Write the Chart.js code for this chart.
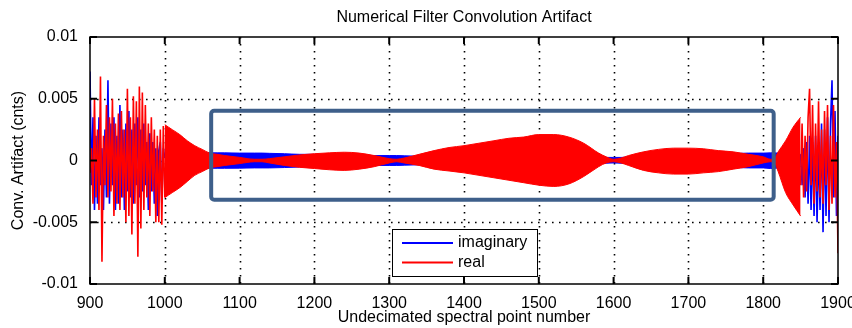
<!DOCTYPE html>
<html>
<head>
<meta charset="utf-8">
<script src="https://cdn.jsdelivr.net/npm/chart.js@4.4.1/dist/chart.umd.min.js"></script>
<style>
  html, body { margin: 0; padding: 0; background: #fff; }
  #wrap { width: 852px; height: 328px; }
</style>
</head>
<body>
<div id="wrap"><canvas id="myChart" width="852" height="328"></canvas></div>
<script>
// axis ticks
const xTicks = [900, 1000, 1100, 1200, 1300, 1400, 1500, 1600, 1700, 1800, 1900];
const yTicks = [-0.01, -0.005, 0, 0.005, 0.01];
const yTickLabels = ['-0.01', '-0.005', '0', '0.005', '0.01'];

// noisy part, left (900..1000, step 2)
const xNoiseLeft = [900, 902, 904, 906, 908, 910, 912, 914, 916, 918, 920, 922, 924, 926, 928, 930, 932, 934, 936, 938,
    940, 942, 944, 946, 948, 950, 952, 954, 956, 958, 960, 962, 964, 966, 968, 970, 972, 974, 976, 978,
    980, 982, 984, 986, 988, 990, 992, 994, 996, 998, 1000];
const realNoiseLeft = [-0.001, 0.001, -0.0035, 0.005, -0.003, 0.0025, -0.004, 0.0068, -0.0082, 0.002,
    -0.002, 0.0045, -0.003, 0.0035, -0.0025, 0.005, -0.0045, 0.003, -0.0035, 0.0038,
    -0.004, 0.004, -0.003, 0.0025, -0.005, 0.0058, -0.0045, 0.0035, -0.006, 0.0052,
    -0.0035, 0.0048, -0.0078, 0.006, -0.0055, 0.0055, -0.004, 0.0045, -0.003, 0.003,
    -0.0045, 0.0035, -0.0025, 0.0025, -0.005, 0.002, -0.005, 0.0025, -0.0052, 0.0028, -0.003];
const imagNoiseLeft = [0.0072, -0.002, 0.0035, -0.004, 0.002, -0.0035, 0.0035, -0.002, 0.001, -0.004,
    0.0025, -0.003, 0.0065, -0.0035, 0.003, -0.002, 0.0035, -0.004, 0.002, -0.0035,
    0.0045, -0.003, 0.0025, -0.004, 0.003, -0.0025, 0.004, -0.003, 0.0025, -0.0035,
    0.003, -0.002, 0.0035, -0.003, 0.0025, -0.0025, 0.003, -0.002, 0.0015, -0.004,
    0.0022, -0.0025, 0.0015, -0.0035, 0.001, -0.0045, 0.0008, 0.0015, -0.0035, 0.001, 0.0002];

// noisy part, right (1850..1900, step 2)
const xNoiseRight = [1850, 1852, 1854, 1856, 1858, 1860, 1862, 1864, 1866, 1868, 1870, 1872, 1874,
    1876, 1878, 1880, 1882, 1884, 1886, 1888, 1890, 1892, 1894, 1896, 1898, 1900];
const realNoiseRight = [-0.002, 0.003, -0.003, 0.002, -0.0025, 0.0035, 0.0058, -0.002, 0.0045, -0.0035,
    0.003, -0.0025, 0.0048, -0.003, 0.0025, -0.0035, 0.004, -0.002, 0.0045, -0.004,
    0.002, -0.0035, 0.0045, -0.003, 0.0015, -0.0075];
const imagNoiseRight = [0.0005, -0.002, 0.001, -0.003, 0.0015, -0.0035, 0.002, -0.004, 0.0015, -0.0045,
    0.002, -0.005, 0.001, -0.004, 0.003, -0.0058, 0.0025, -0.0045, 0.0035, -0.005,
    0.003, 0.0065, -0.003, 0.004, -0.0045, 0.002];

// envelope of the fast oscillation, 1000..1850
const xEnv = [1000, 1005, 1010, 1020, 1030, 1040, 1050, 1060, 1070, 1080, 1100, 1120, 1130, 1140, 1160, 1180,
    1200, 1220, 1240, 1260, 1280, 1300, 1310, 1320, 1340, 1360, 1380, 1400, 1420, 1440, 1460, 1480,
    1500, 1520, 1540, 1560, 1580, 1590, 1600, 1610, 1620, 1640, 1660, 1680, 1700, 1720, 1740, 1760,
    1780, 1800, 1810, 1814, 1820, 1830, 1840, 1850];
const realTop = [0.0029, 0.0027, 0.0025, 0.0021, 0.0016, 0.0012, 0.0009, 0.0006, 0.0005, 0.0004, 0.00025, 0.0001, 0.0001, 0.00015, 0.0003, 0.00045,
    0.00055, 0.00062, 0.00067, 0.0006, 0.0004, 0.00015, 0.0001, 0.0002, 0.0005, 0.0008, 0.00105, 0.0012, 0.0014, 0.0016, 0.0018, 0.0019,
    0.0021, 0.0021, 0.0019, 0.0014, 0.0006, 0.0003, 0.0001, 0.0002, 0.0004, 0.0007, 0.0009, 0.001, 0.001, 0.00095, 0.0008, 0.0007,
    0.0005, 0.0003, 0.0001, 0.0001, 0.0007, 0.0016, 0.0027, 0.0035];
const realBottom = [-0.003, -0.0028, -0.0026, -0.0022, -0.0017, -0.0012, -0.0009, -0.0006, -0.0005, -0.0004, -0.00025, -0.0001, -0.0001, -0.0002, -0.0004, -0.00055,
    -0.00065, -0.00075, -0.0008, -0.0007, -0.0005, -0.0002, -0.0001, -0.0002, -0.0004, -0.0007, -0.00085, -0.001, -0.0012, -0.0014, -0.0016, -0.0018,
    -0.002, -0.0021, -0.0019, -0.0013, -0.0005, -0.0002, -0.0001, -0.0002, -0.0004, -0.0008, -0.001, -0.0011, -0.0011, -0.001, -0.0009, -0.0007,
    -0.0005, -0.0002, -0.0001, -0.0001, -0.0009, -0.0026, -0.0036, -0.0045];
const imagTop = [0.0006, 0.0006, 0.0006, 0.0006, 0.0006, 0.0006, 0.0006, 0.00062, 0.00062, 0.00062, 0.0006, 0.0006, 0.0006, 0.00058, 0.00055, 0.0005,
    0.0005, 0.00048, 0.00045, 0.00043, 0.0004, 0.0004, 0.0004, 0.00038, 0.00035, 0.00033, 0.0003, 0.0003, 0.0003, 0.0003, 0.0003, 0.0003,
    0.0003, 0.0003, 0.0003, 0.00028, 0.00025, 0.00025, 0.00025, 0.00025, 0.00028, 0.0003, 0.00035, 0.00035, 0.0004, 0.00045, 0.0005, 0.00055,
    0.0006, 0.0006, 0.00062, 0.00062, 0.0006, 0.0006, 0.0006, 0.0005];
const imagBottom = [-0.0006, -0.0006, -0.0006, -0.0006, -0.0006, -0.0006, -0.0006, -0.00063, -0.00063, -0.00063, -0.00062, -0.0006, -0.0006, -0.0006, -0.00057, -0.00053,
    -0.0005, -0.00048, -0.00045, -0.00043, -0.0004, -0.0004, -0.0004, -0.00038, -0.00035, -0.00033, -0.0003, -0.0003, -0.0003, -0.0003, -0.0003, -0.0003,
    -0.0003, -0.0003, -0.0003, -0.00028, -0.00025, -0.00022, -0.0002, -0.00022, -0.00025, -0.0003, -0.00035, -0.00035, -0.0004, -0.00045, -0.0005, -0.00055,
    -0.0006, -0.0006, -0.00065, -0.00065, -0.0006, -0.0006, -0.0006, -0.0005];

// highlighted region (blue box) in data units
const boxX = [1062, 1814];
const boxY = [-0.00318, 0.00402];

const seriesNames = ['imaginary', 'real'];
const seriesColors = ['#0000ff', '#ff0000'];

const FONT = "'Liberation Sans', Arial, Helvetica, sans-serif";

function pts(xs, ys) {
    return xs.map((x, i) => ({ x: x, y: ys[i] }));
}

function noiseSet(xs, ys, color) {
    return {
        data: pts(xs, ys),
        borderColor: color,
        borderWidth: 1.6,
        pointRadius: 0,
        tension: 0,
        fill: false
    };
}

function envSet(xs, ys, color, fill) {
    return {
        data: pts(xs, ys),
        borderColor: color,
        backgroundColor: color,
        borderWidth: 1,
        pointRadius: 0,
        cubicInterpolationMode: 'monotone',
        fill: fill
    };
}

const plotDecor = {
    id: 'plotDecor',
    beforeDatasetsDraw(chart) {
        const { ctx, chartArea: a, scales: { x, y } } = chart;
        ctx.save();
        ctx.strokeStyle = '#000';
        ctx.lineWidth = 1.6;
        ctx.setLineDash([1.6, 5.4]);
        xTicks.slice(1, -1).forEach(v => {
            const px = Math.round(x.getPixelForValue(v)) + 0.5;
            ctx.beginPath(); ctx.moveTo(px, a.top); ctx.lineTo(px, a.bottom); ctx.stroke();
        });
        yTicks.slice(1, -1).forEach(v => {
            const py = Math.round(y.getPixelForValue(v)) + 0.5;
            ctx.beginPath(); ctx.moveTo(a.left, py); ctx.lineTo(a.right, py); ctx.stroke();
        });
        ctx.restore();
    },
    afterDatasetsDraw(chart) {
        const { ctx, chartArea: a, scales: { x, y } } = chart;
        ctx.save();
        // frame
        ctx.strokeStyle = '#000';
        ctx.lineWidth = 1.5;
        ctx.strokeRect(a.left, a.top, a.right - a.left, a.bottom - a.top);
        // inward ticks
        const tl = 7;
        ctx.lineWidth = 2;
        ctx.beginPath();
        xTicks.forEach(v => {
            const px = x.getPixelForValue(v);
            ctx.moveTo(px, a.bottom); ctx.lineTo(px, a.bottom - tl);
            ctx.moveTo(px, a.top); ctx.lineTo(px, a.top + tl);
        });
        yTicks.forEach(v => {
            const py = y.getPixelForValue(v);
            ctx.moveTo(a.left, py); ctx.lineTo(a.left + tl, py);
            ctx.moveTo(a.right, py); ctx.lineTo(a.right - tl, py);
        });
        ctx.stroke();

        // highlight box
        const bx0 = x.getPixelForValue(boxX[0]), bx1 = x.getPixelForValue(boxX[1]);
        const by0 = y.getPixelForValue(boxY[1]), by1 = y.getPixelForValue(boxY[0]);
        ctx.strokeStyle = '#3e5f8a';
        ctx.lineWidth = 4;
        ctx.beginPath();
        ctx.roundRect(bx0, by0, bx1 - bx0, by1 - by0, 3);
        ctx.stroke();

        // legend
        const lx = a.left + 302, ly = a.top + 192, lw = 145, lh = 47;
        ctx.fillStyle = '#fff';
        ctx.fillRect(lx, ly, lw, lh);
        ctx.strokeStyle = '#000';
        ctx.lineWidth = 1;
        ctx.strokeRect(lx + 0.5, ly + 0.5, lw, lh);
        ctx.font = '16px ' + FONT;
        ctx.textBaseline = 'middle';
        ctx.textAlign = 'left';
        seriesNames.forEach((name, i) => {
            const yy = ly + 14 + i * 19.5;
            ctx.strokeStyle = seriesColors[i];
            ctx.lineWidth = 2;
            ctx.beginPath(); ctx.moveTo(lx + 10, yy); ctx.lineTo(lx + 61, yy); ctx.stroke();
            ctx.fillStyle = '#000';
            ctx.fillText(name, lx + 66, yy);
        });
        ctx.restore();
    },
    afterDraw(chart) {
        const { ctx, chartArea: a } = chart;
        ctx.save();
        ctx.fillStyle = '#000';
        ctx.font = '16px ' + FONT;
        ctx.textAlign = 'center';
        ctx.textBaseline = 'middle';
        const cx = (a.left + a.right) / 2;
        ctx.fillText('Numerical Filter Convolution Artifact', cx, 18);
        ctx.fillText('Undecimated spectral point number', cx, 318);
        ctx.translate(19, (a.top + a.bottom) / 2);
        ctx.rotate(-Math.PI / 2);
        ctx.fillText('Conv. Artifact (cnts)', 0, 0);
        ctx.restore();
    }
};

function initializeChart() {
    const ctx = document.getElementById('myChart').getContext('2d');
    new Chart(ctx, {
        type: 'line',
        data: {
            datasets: [
                noiseSet(xNoiseLeft, realNoiseLeft, seriesColors[1]),
                noiseSet(xNoiseRight, realNoiseRight, seriesColors[1]),
                envSet(xEnv, realTop, seriesColors[1], '+1'),
                envSet(xEnv, realBottom, seriesColors[1], false),
                noiseSet(xNoiseLeft, imagNoiseLeft, seriesColors[0]),
                noiseSet(xNoiseRight, imagNoiseRight, seriesColors[0]),
                envSet(xEnv, imagTop, seriesColors[0], '+1'),
                envSet(xEnv, imagBottom, seriesColors[0], false)
            ]
        },
        options: {
            responsive: false,
            animation: false,
            events: [],
            layout: { padding: { top: 37, right: 14, left: 0, bottom: 0 } },
            plugins: {
                legend: { display: false },
                tooltip: { enabled: false },
                title: { display: false }
            },
            scales: {
                x: {
                    type: 'linear',
                    min: 900,
                    max: 1900,
                    afterBuildTicks: axis => { axis.ticks = xTicks.map(v => ({ value: v })); },
                    afterFit: s => { s.height = 44; s.paddingLeft = 0; s.paddingRight = 0; },
                    grid: { display: false },
                    border: { display: false },
                    ticks: {
                        color: '#000',
                        font: { family: FONT, size: 16 },
                        padding: 2,
                        maxRotation: 0,
                        autoSkip: false,
                        callback: v => String(v)
                    }
                },
                y: {
                    type: 'linear',
                    min: -0.01,
                    max: 0.01,
                    afterBuildTicks: axis => { axis.ticks = yTicks.map(v => ({ value: v })); },
                    afterFit: s => { s.width = 90; s.paddingTop = 0; s.paddingBottom = 0; },
                    grid: { display: false },
                    border: { display: false },
                    ticks: {
                        color: '#000',
                        font: { family: FONT, size: 16 },
                        padding: 4,
                        callback: (v, i) => yTickLabels[i]
                    }
                }
            }
        },
        plugins: [plotDecor]
    });
}

initializeChart();
</script>
</body>
</html>
